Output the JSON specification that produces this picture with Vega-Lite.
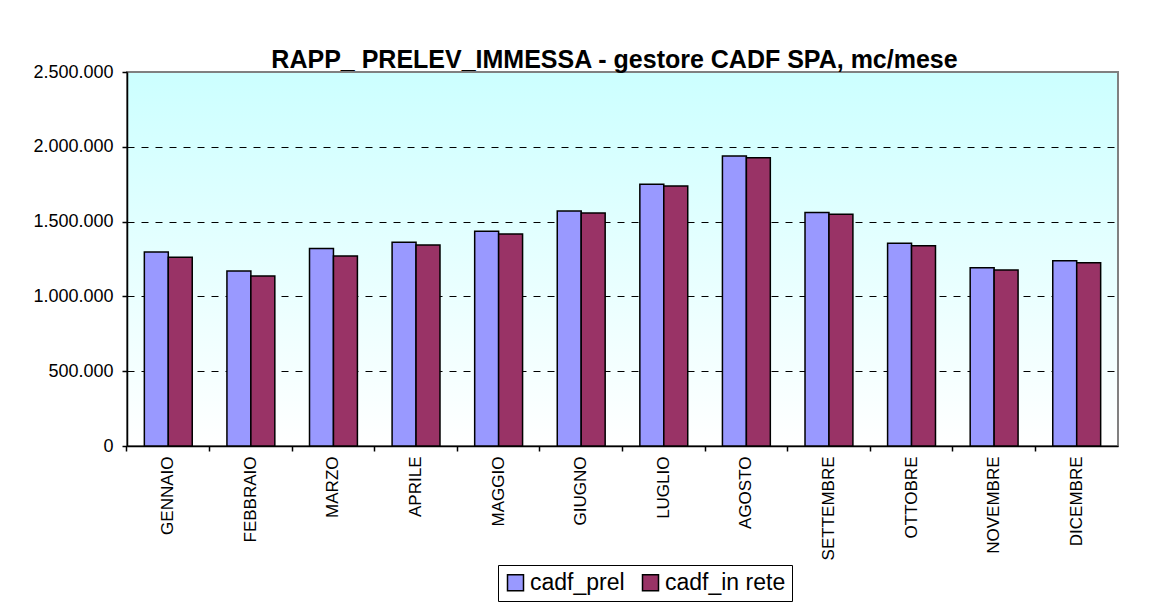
{
  "$schema": "https://vega.github.io/schema/vega-lite/v6.json",
  "autosize": {"type": "none"},
  "padding": {"left": 127, "top": 72, "right": 53, "bottom": 156},
  "width": 991,
  "height": 374,
  "background": "white",
  "title": {
    "text": "RAPP_ PRELEV_IMMESSA - gestore CADF SPA, mc/mese",
    "font": "Liberation Sans",
    "fontSize": 25,
    "fontWeight": "bold",
    "color": "black",
    "anchor": "middle",
    "baseline": "alphabetic",
    "offset": -30,
    "dx": -8
  },
  "view": {
    "fill": {
      "gradient": "linear",
      "x1": 0, "y1": 0, "x2": 0, "y2": 1,
      "stops": [
        {"offset": 0, "color": "#CCFFFF"},
        {"offset": 1, "color": "#FFFFFF"}
      ]
    },
    "stroke": "#808080",
    "strokeWidth": 2
  },
  "data": {
    "values": [
      {"month": "GENNAIO", "series": "cadf_prel", "value": 1297000},
      {"month": "GENNAIO", "series": "cadf_in rete", "value": 1261000},
      {"month": "FEBBRAIO", "series": "cadf_prel", "value": 1170000},
      {"month": "FEBBRAIO", "series": "cadf_in rete", "value": 1136000},
      {"month": "MARZO", "series": "cadf_prel", "value": 1321000},
      {"month": "MARZO", "series": "cadf_in rete", "value": 1270000},
      {"month": "APRILE", "series": "cadf_prel", "value": 1362000},
      {"month": "APRILE", "series": "cadf_in rete", "value": 1344000},
      {"month": "MAGGIO", "series": "cadf_prel", "value": 1435000},
      {"month": "MAGGIO", "series": "cadf_in rete", "value": 1417000},
      {"month": "GIUGNO", "series": "cadf_prel", "value": 1571000},
      {"month": "GIUGNO", "series": "cadf_in rete", "value": 1557000},
      {"month": "LUGLIO", "series": "cadf_prel", "value": 1749000},
      {"month": "LUGLIO", "series": "cadf_in rete", "value": 1738000},
      {"month": "AGOSTO", "series": "cadf_prel", "value": 1939000},
      {"month": "AGOSTO", "series": "cadf_in rete", "value": 1927000},
      {"month": "SETTEMBRE", "series": "cadf_prel", "value": 1560000},
      {"month": "SETTEMBRE", "series": "cadf_in rete", "value": 1549000},
      {"month": "OTTOBRE", "series": "cadf_prel", "value": 1355000},
      {"month": "OTTOBRE", "series": "cadf_in rete", "value": 1339000},
      {"month": "NOVEMBRE", "series": "cadf_prel", "value": 1192000},
      {"month": "NOVEMBRE", "series": "cadf_in rete", "value": 1176000},
      {"month": "DICEMBRE", "series": "cadf_prel", "value": 1239000},
      {"month": "DICEMBRE", "series": "cadf_in rete", "value": 1225000}
    ]
  },
  "mark": {"type": "bar", "stroke": "black", "strokeWidth": 1.5},
  "encoding": {
    "x": {
      "field": "month",
      "type": "nominal",
      "sort": ["GENNAIO", "FEBBRAIO", "MARZO", "APRILE", "MAGGIO", "GIUGNO", "LUGLIO", "AGOSTO", "SETTEMBRE", "OTTOBRE", "NOVEMBRE", "DICEMBRE"],
      "scale": {"paddingInner": 0.42, "paddingOuter": 0.21},
      "axis": {
        "title": null,
        "bandPosition": -0.3621,
        "labelAngle": 270,
        "labelAlign": "right",
        "labelBaseline": "middle",
        "labelFont": "Liberation Sans",
        "labelFontSize": 17,
        "labelColor": "black",
        "labelPadding": 5,
        "tickSize": 5,
        "tickColor": "black",
        "tickWidth": 1.5,
        "domainColor": "black",
        "domainWidth": 1.5,
        "grid": false
      }
    },
    "xOffset": {
      "field": "series",
      "type": "nominal",
      "sort": ["cadf_prel", "cadf_in rete"],
      "scale": {"paddingInner": 0, "paddingOuter": 0}
    },
    "y": {
      "field": "value",
      "type": "quantitative",
      "scale": {"domain": [0, 2500000], "nice": false},
      "axis": {
        "title": null,
        "values": [0, 500000, 1000000, 1500000, 2000000, 2500000],
        "format": ",d",
        "labelFont": "Liberation Sans",
        "labelFontSize": 18,
        "labelColor": "black",
        "labelPadding": 9,
        "tickSize": 5,
        "tickColor": "black",
        "tickWidth": 1.5,
        "domainColor": "black",
        "domainWidth": 1.5,
        "grid": true,
        "gridColor": "black",
        "gridWidth": 1,
        "gridDash": [7, 7],
        "gridOpacity": {"condition": {"test": "datum.value == 2500000 || datum.value == 0", "value": 0}, "value": 1}
      }
    },
    "color": {
      "field": "series",
      "type": "nominal",
      "sort": ["cadf_prel", "cadf_in rete"],
      "scale": {"domain": ["cadf_prel", "cadf_in rete"], "range": ["#9999FF", "#993366"]},
      "legend": {
        "title": null,
        "orient": "none",
        "legendX": 371,
        "legendY": 493,
        "direction": "horizontal",
        "strokeColor": "black",
        "fillColor": "white",
        "padding": 6,
        "symbolType": "square",
        "symbolSize": 256,
        "symbolStrokeColor": "black",
        "symbolStrokeWidth": 1.5,
        "symbolOpacity": 1,
        "labelFont": "Liberation Sans",
        "labelFontSize": 23,
        "labelColor": "black",
        "columnPadding": 14,
        "labelOffset": 3
      }
    }
  },
  "config": {
    "locale": {
      "number": {"decimal": ",", "thousands": ".", "grouping": [3], "currency": ["", " €"]}
    }
  }
}
